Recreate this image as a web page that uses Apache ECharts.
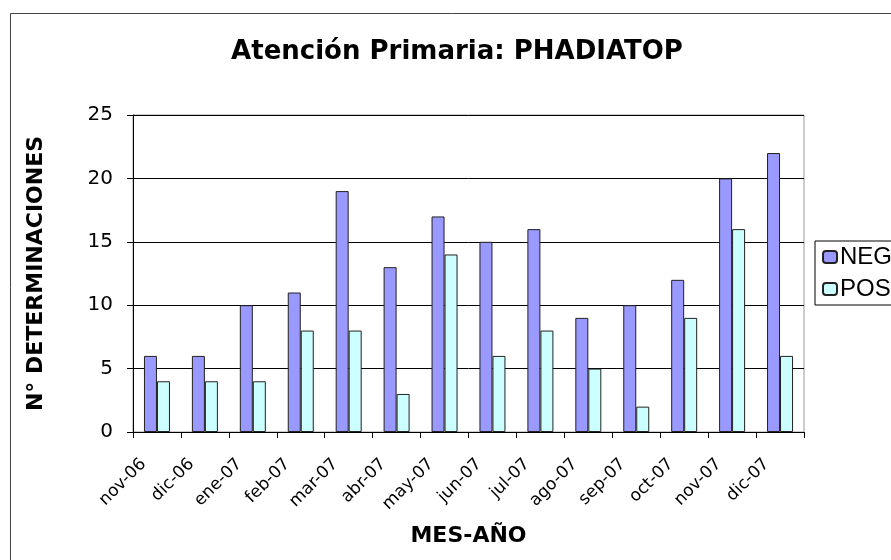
<!DOCTYPE html>
<html>
<head>
<meta charset="utf-8">
<script src="https://cdn.jsdelivr.net/npm/echarts@6/dist/echarts.min.js"></script>
<style>
  html, body { margin: 0; padding: 0; background: #fff; }
  #main { width: 891px; height: 560px; }
</style>
</head>
<body>
<div id="main"></div>
<script>
var meses = ['nov-06', 'dic-06', 'ene-07', 'feb-07', 'mar-07', 'abr-07', 'may-07',
             'jun-07', 'jul-07', 'ago-07', 'sep-07', 'oct-07', 'nov-07', 'dic-07'];
var neg = [6, 6, 10, 11, 19, 13, 17, 15, 16, 9, 10, 12, 20, 22];
var pos = [4, 4, 4, 8, 8, 3, 14, 6, 8, 5, 2, 9, 16, 6];

var fuente = '"DejaVu Sans", Verdana, sans-serif';
var fuenteLeyenda = '"Liberation Sans", Arial, sans-serif';

var myChart = echarts.init(document.getElementById('main'));

var option = {
    animation: false,
    textStyle: { fontFamily: fuente },
    // marco exterior del gráfico
    graphic: [{
        type: 'rect',
        shape: { x: 10.5, y: 13.5, width: 1000, height: 1000 },
        style: { fill: 'none', stroke: '#444', lineWidth: 1 },
        silent: true
    }],
    title: {
        text: 'Atención Primaria: PHADIATOP',
        left: 452,
        top: 34,
        textAlign: 'center',
        textStyle: { fontFamily: fuente, fontSize: 26, fontWeight: 'bold', color: '#000' }
    },
    legend: {
        orient: 'vertical',
        left: 815,
        top: 241,
        data: ['NEG', 'POS'],
        itemWidth: 14,
        itemHeight: 12,
        itemGap: 8,
        padding: [4, 10, 4, 7],
        borderColor: '#000',
        borderWidth: 1,
        textStyle: { fontFamily: fuenteLeyenda, fontSize: 24, color: '#000', padding: [0, 0, 0, -2] }
    },
    grid: {
        left: 133,
        right: 87,
        top: 115,
        bottom: 128,
        show: true,
        borderColor: '#999',
        borderWidth: 1
    },
    xAxis: {
        type: 'category',
        data: meses,
        name: 'MES-AÑO',
        nameLocation: 'middle',
        nameGap: 93,
        nameTextStyle: { fontFamily: fuente, fontSize: 22, fontWeight: 'bold', color: '#000' },
        axisLine: { lineStyle: { color: '#000', width: 1 } },
        axisTick: { show: true, length: 6, lineStyle: { color: '#000' } },
        axisLabel: {
            rotate: 45,
            margin: 16,
            interval: 0,
            padding: [0, 19, 0, 0],
            fontFamily: fuente,
            fontSize: 17,
            color: '#000'
        }
    },
    yAxis: {
        type: 'value',
        min: 0,
        max: 25,
        interval: 5,
        name: 'N° DETERMINACIONES',
        nameLocation: 'middle',
        nameGap: 86,
        nameTextStyle: { fontFamily: fuente, fontSize: 22, fontWeight: 'bold', color: '#000' },
        axisLine: { show: true, lineStyle: { color: '#000', width: 1 } },
        axisTick: { show: true, length: 6, lineStyle: { color: '#000' } },
        axisLabel: { margin: 20, fontFamily: fuente, fontSize: 20, color: '#000' },
        splitLine: { lineStyle: { color: '#000', width: 1 } }
    },
    series: [
        {
            name: 'NEG',
            type: 'bar',
            data: neg,
            barWidth: 13,
            barGap: '0%',
            itemStyle: { color: '#9999FF', borderColor: '#222', borderWidth: 1 }
        },
        {
            name: 'POS',
            type: 'bar',
            data: pos,
            barWidth: 13,
            itemStyle: { color: '#CCFFFF', borderColor: '#222', borderWidth: 1 }
        }
    ]
};

myChart.setOption(option);
</script>
</body>
</html>
